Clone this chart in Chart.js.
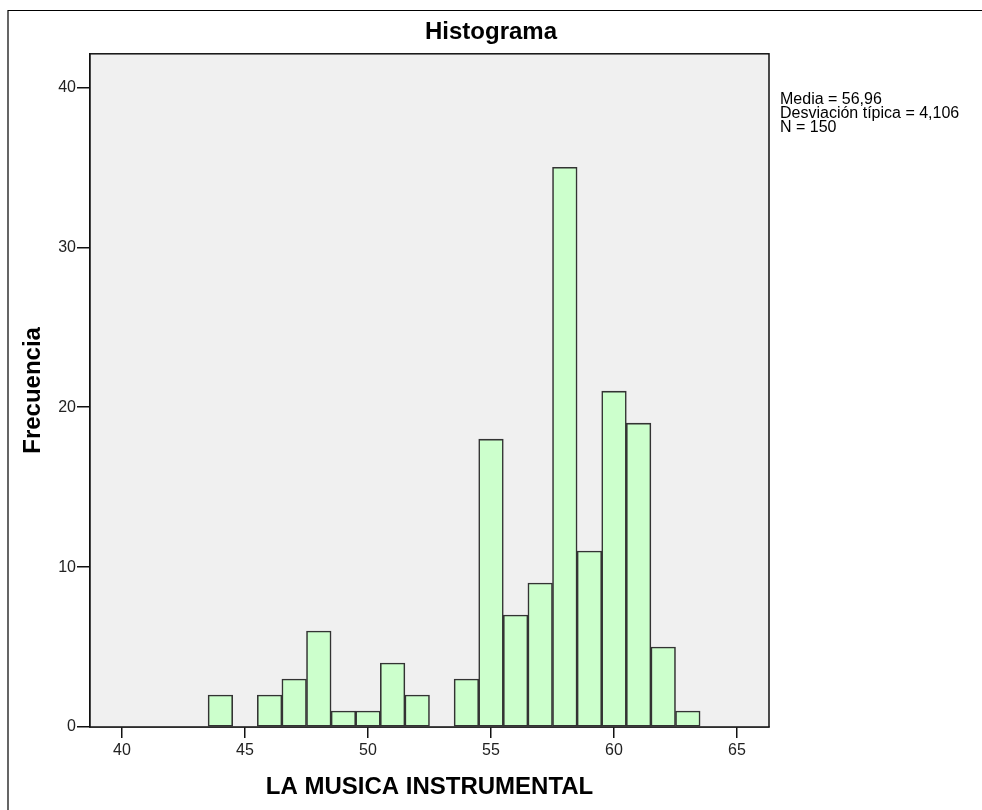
<!DOCTYPE html>
<html lang="es">
<head>
<meta charset="UTF-8">
<title>Histograma</title>
<script src="https://cdn.jsdelivr.net/npm/chart.js"></script>
<style>
  html, body { margin: 0; padding: 0; background: #fff; }
  .wrap { width: 982px; height: 810px; position: relative; }
</style>
</head>
<body>
<div class="wrap"><canvas id="hist"></canvas></div>

<script>
    // bins (centre of each class, width 1) and their counts
    const bins = [44, 45, 46, 47, 48, 49, 50, 51, 52, 53, 54, 55, 56, 57, 58, 59, 60, 61, 62, 63];
    const counts = [2, 0, 2, 3, 6, 1, 1, 4, 2, 0, 3, 18, 7, 9, 35, 11, 21, 19, 5, 1];
    const xTicks = [40, 45, 50, 55, 60, 65];
    const yTicks = [0, 10, 20, 30, 40];
    const stats = ['Media = 56,96', 'Desviación típica = 4,106', 'N = 150'];

    const FONT = 'Arial, "Liberation Sans", sans-serif';

    // grey plot background + frame, outer border, stats box
    const decor = {
        id: 'decor',
        beforeDatasetsDraw(chart) {
            const {ctx, chartArea: a} = chart;
            ctx.save();
            ctx.fillStyle = '#f0f0f0';
            ctx.fillRect(a.left, a.top, a.right - a.left, a.bottom - a.top);
            ctx.restore();
        },
        afterDraw(chart) {
            const {ctx, chartArea: a} = chart;
            ctx.save();
            ctx.strokeStyle = '#111';
            ctx.lineWidth = 1.5;
            ctx.strokeRect(a.left, a.top, a.right - a.left, a.bottom - a.top);
            // outer frame of the chart window
            ctx.lineWidth = 1.2;
            ctx.strokeStyle = '#000';
            ctx.beginPath();
            ctx.moveTo(8, chart.height);
            ctx.lineTo(8, 10.5);
            ctx.lineTo(chart.width, 10.5);
            ctx.stroke();
            // stats text
            ctx.fillStyle = '#000';
            ctx.font = '16px ' + FONT;
            ctx.textBaseline = 'middle';
            stats.forEach((s, i) => ctx.fillText(s, a.right + 11, 100 + i * 14));
            ctx.restore();
        }
    };

    const ctx = document.getElementById('hist').getContext('2d');
    new Chart(ctx, {
        type: 'bar',
        data: {
            datasets: [{
                label: 'Frecuencia',
                data: bins.map((b, i) => ({x: b, y: counts[i] || null})),
                backgroundColor: '#ccffcc',
                borderColor: '#333',
                borderWidth: 1.6,
                borderSkipped: false,
                barPercentage: 1,
                categoryPercentage: 1
            }]
        },
        options: {
            responsive: true,
            maintainAspectRatio: false,
            animation: false,
            layout: { padding: 0 },
            plugins: {
                legend: { display: false },
                tooltip: { enabled: false },
                title: {
                    display: true,
                    text: 'Histograma',
                    color: '#000',
                    font: { family: FONT, size: 24, weight: 'bold' },
                    padding: { top: 18, bottom: 7 }
                }
            },
            scales: {
                x: {
                    type: 'linear',
                    min: 38.7,
                    max: 66.3,
                    offset: false,
                    afterBuildTicks: s => { s.ticks = xTicks.map(v => ({value: v})); },
                    afterFit: s => { s.height = 83; },
                    grid: { offset: false, drawOnChartArea: false, drawTicks: true, tickLength: 11, color: '#111', lineWidth: 1.5 },
                    border: { display: true, color: '#111', width: 1.5 },
                    ticks: { color: '#222', font: { family: FONT, size: 16 }, padding: 3, maxRotation: 0 },
                    title: {
                        display: true,
                        text: 'LA MUSICA INSTRUMENTAL',
                        color: '#000',
                        font: { family: FONT, size: 24, weight: 'bold' },
                        padding: { top: 0, bottom: 8 }
                    }
                },
                y: {
                    min: 0,
                    max: 42.1,
                    afterBuildTicks: s => { s.ticks = yTicks.map(v => ({value: v})); },
                    afterFit: s => { s.width = 90; },
                    grid: { drawOnChartArea: false, drawTicks: true, tickLength: 13, color: '#111', lineWidth: 1.5 },
                    border: { display: true, color: '#111', width: 1.5 },
                    ticks: { color: '#222', font: { family: FONT, size: 16 }, padding: 1 },
                    title: {
                        display: true,
                        text: 'Frecuencia',
                        color: '#000',
                        font: { family: FONT, size: 24, weight: 'bold' },
                        padding: { top: 19, bottom: 0 }
                    }
                },
                // empty strip on the right that holds the stats text
                side: {
                    position: 'right',
                    axis: 'y',
                    display: true,
                    afterFit: s => { s.width = 213; },
                    grid: { display: false, drawTicks: false },
                    border: { display: false },
                    ticks: { display: false }
                }
            }
        },
        plugins: [decor]
    });
</script>
</body>
</html>
